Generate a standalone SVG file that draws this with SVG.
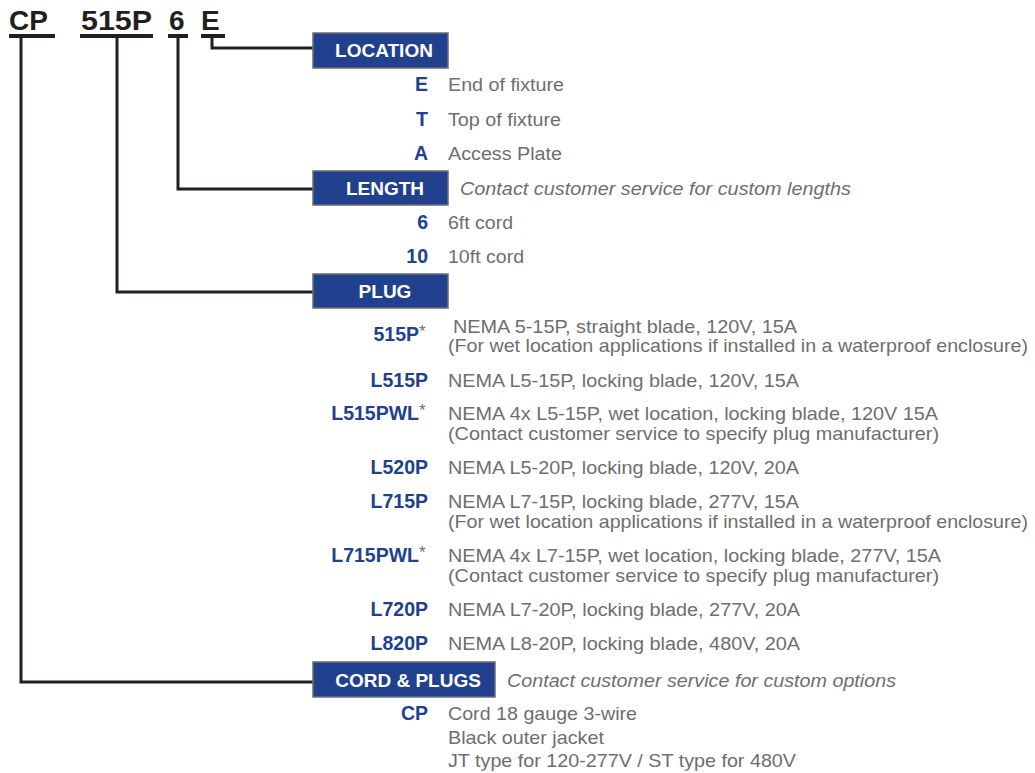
<svg xmlns="http://www.w3.org/2000/svg" width="1035" height="773" viewBox="0 0 1035 773">
<style>
.hd{font-family:"Liberation Sans",Arial,sans-serif;font-weight:bold;font-size:28px;fill:#231f20}
.ul{fill:#231f20}
.ln{fill:none;stroke:#231f20;stroke-width:3;stroke-linejoin:miter;stroke-linecap:butt}
.box{fill:#21418f;stroke:#6d6e71;stroke-width:1.5}
.bt{font-family:"Liberation Sans",Arial,sans-serif;font-weight:bold;font-size:19px;fill:#ffffff;text-anchor:middle}
.cd{font-family:"Liberation Sans",Arial,sans-serif;font-weight:bold;font-size:19.5px;fill:#21418f;text-anchor:end}
.ds{font-family:"Liberation Sans",Arial,sans-serif;font-size:18px;fill:#6d6e71}
.dc{font-family:"Liberation Sans",Arial,sans-serif;font-size:19px;fill:#6d6e71}
.it{font-family:"Liberation Sans",Arial,sans-serif;font-style:italic;font-size:18px;fill:#6d6e71}
.st{font-family:"Liberation Sans",Arial,sans-serif;font-size:17px;fill:#6d6e71}
</style>

<g id="header">
  <text class="hd" x="9" y="30">CP</text>
  <text class="hd" x="81" y="30" textLength="71" lengthAdjust="spacingAndGlyphs">515P</text>
  <text class="hd" x="169" y="30">6</text>
  <text class="hd" x="201" y="30">E</text>
  <rect class="ul" x="9" y="34" width="46" height="4"/>
  <rect class="ul" x="80" y="34" width="73" height="4"/>
  <rect class="ul" x="168" y="34" width="20" height="4"/>
  <rect class="ul" x="201" y="34" width="24" height="4"/>
</g>

<g id="connectors">
  <polyline class="ln" points="212,37 212,48 314,48"/>
  <polyline class="ln" points="178,37 178,189 314,189"/>
  <polyline class="ln" points="117,37 117,292 314,292"/>
  <polyline class="ln" points="21,37 21,682 314,682"/>
</g>

<g id="location">
  <rect class="box" x="313" y="33" width="135" height="35"/>
  <text class="bt" x="384" y="57">LOCATION</text>
  <text class="cd" x="428" y="91">E</text>
  <text class="ds" x="448" y="91" textLength="116" lengthAdjust="spacingAndGlyphs">End of fixture</text>
  <text class="cd" x="428" y="125.5">T</text>
  <text class="ds" x="448" y="125.5" textLength="113" lengthAdjust="spacingAndGlyphs">Top of fixture</text>
  <text class="cd" x="428" y="159.5">A</text>
  <text class="ds" x="448" y="159.5" textLength="114" lengthAdjust="spacingAndGlyphs">Access Plate</text>
</g>

<g id="length">
  <rect class="box" x="313" y="171" width="135" height="34"/>
  <text class="bt" x="385" y="194.5">LENGTH</text>
  <text class="it" x="460" y="194.5" textLength="391" lengthAdjust="spacingAndGlyphs">Contact customer service for custom lengths</text>
  <text class="cd" x="428" y="228.5">6</text>
  <text class="ds" x="448" y="228.5" textLength="65" lengthAdjust="spacingAndGlyphs">6ft cord</text>
  <text class="cd" x="428" y="262.5">10</text>
  <text class="ds" x="448" y="262.5" textLength="76" lengthAdjust="spacingAndGlyphs">10ft cord</text>
</g>

<g id="plug">
  <rect class="box" x="313" y="274" width="135" height="34"/>
  <text class="bt" x="385" y="297.5">PLUG</text>

  <text class="cd" x="419" y="341">515P</text>
  <text class="st" x="419" y="337">*</text>
  <text class="dc" x="453" y="333" textLength="344" lengthAdjust="spacingAndGlyphs">NEMA 5-15P, straight blade, 120V, 15A</text>
  <text class="dc" x="448" y="352" textLength="580" lengthAdjust="spacingAndGlyphs">(For wet location applications if installed in a waterproof enclosure)</text>

  <text class="cd" x="428" y="387">L515P</text>
  <text class="dc" x="448" y="387" textLength="351" lengthAdjust="spacingAndGlyphs">NEMA L5-15P, locking blade, 120V, 15A</text>

  <text class="cd" x="419" y="420">L515PWL</text>
  <text class="st" x="419" y="416">*</text>
  <text class="dc" x="448" y="420" textLength="490" lengthAdjust="spacingAndGlyphs">NEMA 4x L5-15P, wet location, locking blade, 120V 15A</text>
  <text class="dc" x="448" y="440" textLength="491" lengthAdjust="spacingAndGlyphs">(Contact customer service to specify plug manufacturer)</text>

  <text class="cd" x="428" y="474">L520P</text>
  <text class="dc" x="448" y="474" textLength="351" lengthAdjust="spacingAndGlyphs">NEMA L5-20P, locking blade, 120V, 20A</text>

  <text class="cd" x="428" y="508">L715P</text>
  <text class="dc" x="448" y="508" textLength="351" lengthAdjust="spacingAndGlyphs">NEMA L7-15P, locking blade, 277V, 15A</text>
  <text class="dc" x="448" y="528" textLength="580" lengthAdjust="spacingAndGlyphs">(For wet location applications if installed in a waterproof enclosure)</text>

  <text class="cd" x="419" y="562">L715PWL</text>
  <text class="st" x="419" y="558">*</text>
  <text class="dc" x="448" y="562" textLength="493" lengthAdjust="spacingAndGlyphs">NEMA 4x L7-15P, wet location, locking blade, 277V, 15A</text>
  <text class="dc" x="448" y="582" textLength="491" lengthAdjust="spacingAndGlyphs">(Contact customer service to specify plug manufacturer)</text>

  <text class="cd" x="428" y="615.5">L720P</text>
  <text class="ds" x="448" y="615.5" textLength="352" lengthAdjust="spacingAndGlyphs">NEMA L7-20P, locking blade, 277V, 20A</text>

  <text class="cd" x="428" y="649.5">L820P</text>
  <text class="ds" x="448" y="649.5" textLength="352" lengthAdjust="spacingAndGlyphs">NEMA L8-20P, locking blade, 480V, 20A</text>
</g>

<g id="cord-plugs">
  <rect class="box" x="313" y="662" width="182" height="35"/>
  <text class="bt" x="408" y="686.5">CORD &amp; PLUGS</text>
  <text class="it" x="507" y="686.5" textLength="389" lengthAdjust="spacingAndGlyphs">Contact customer service for custom options</text>
  <text class="cd" x="428" y="719.5">CP</text>
  <text class="dc" x="448" y="719.5" textLength="189" lengthAdjust="spacingAndGlyphs">Cord 18 gauge 3-wire</text>
  <text class="dc" x="448" y="743.5" textLength="156" lengthAdjust="spacingAndGlyphs">Black outer jacket</text>
  <text class="dc" x="448" y="766.5" textLength="348" lengthAdjust="spacingAndGlyphs">JT type for 120-277V / ST type for 480V</text>
</g>
</svg>
